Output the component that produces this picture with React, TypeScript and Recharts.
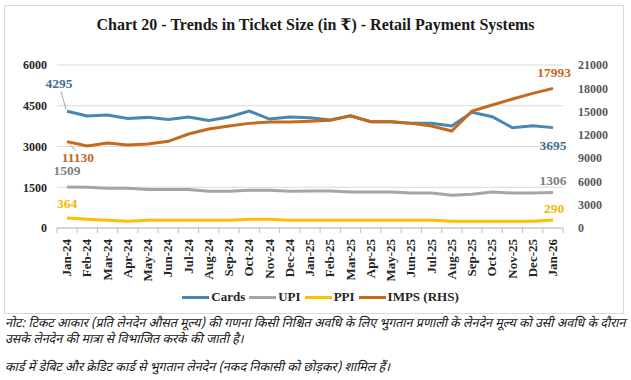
import React from "react"
import {
  CartesianGrid,
  Line,
  LineChart,
  XAxis,
  YAxis,
} from "recharts"

const months = [
  "Jan-24", "Feb-24", "Mar-24", "Apr-24", "May-24", "Jun-24", "Jul-24",
  "Aug-24", "Sep-24", "Oct-24", "Nov-24", "Dec-24", "Jan-25", "Feb-25",
  "Mar-25", "Apr-25", "May-25", "Jun-25", "Jul-25", "Aug-25", "Sep-25",
  "Oct-25", "Nov-25", "Dec-25", "Jan-26",
]

const cards = [
  4295, 4121, 4158, 4035, 4072, 3998, 4084, 3962, 4084, 4305, 4010, 4084,
  4060, 3974, 4133, 3913, 3913, 3852, 3852, 3754, 4257, 4097, 3692, 3766, 3695,
]

const upi = [
  1509, 1500, 1460, 1460, 1420, 1420, 1420, 1350, 1350, 1390, 1390, 1350,
  1360, 1360, 1325, 1325, 1325, 1288, 1288, 1202, 1239, 1325, 1288, 1288, 1306,
]

const ppi = [
  364, 319, 282, 245, 282, 282, 282, 282, 282, 319, 319, 282, 282, 282, 282,
  282, 282, 282, 282, 245, 245, 245, 245, 245, 290,
]

const imps = [
  11130, 10562, 10948, 10690, 10819, 11163, 12107, 12751, 13137, 13480, 13652,
  13652, 13738, 13867, 14468, 13695, 13695, 13480, 13137, 12494, 15070, 15842,
  16615, 17345, 17993,
]

const leftTicks = [0, 1500, 3000, 4500, 6000]
const rightTicks = [0, 3000, 6000, 9000, 12000, 15000, 18000, 21000]

const data = months.map((month, i) => ({
  month,
  cards: cards[i],
  upi: upi[i],
  ppi: ppi[i],
  imps: imps[i],
}))

const SERIF = "'Liberation Serif', 'DejaVu Serif', serif"

// end labels: dx/dy from the point to the label baseline centre
const series = [
  {
    key: "cards", name: "Cards", color: "#4a86b0", text: "#3f6f94", axis: "left",
    first: { dx: -8, dy: -23, leader: true }, last: { dx: 0, dy: 22 },
  },
  {
    key: "upi", name: "UPI", color: "#a5a5a5", text: "#808080", axis: "left",
    first: { dx: 0, dy: -12 }, last: { dx: 0, dy: -8 },
  },
  {
    key: "ppi", name: "PPI", color: "#ffc000", text: "#f5b800", axis: "left",
    first: { dx: 0, dy: -10 }, last: { dx: 1, dy: -7 },
  },
  {
    key: "imps", name: "IMPS (RHS)", color: "#c5691c", text: "#c5691c", axis: "right",
    first: { dx: 11, dy: 20, leader: true }, last: { dx: 1, dy: -11 },
  },
]

const PLOT_W = 506
const PAD = 10
const STEP = (PLOT_W - 2 * PAD) / (months.length - 1)

function MonthTick(props: any) {
  const { x, y, payload, index } = props
  return (
    <g>
      <line x1={x - STEP / 2} y1={y} x2={x - STEP / 2} y2={y + 5} stroke="#bfbfbf" />
      {index === months.length - 1 && (
        <line x1={x + STEP / 2} y1={y} x2={x + STEP / 2} y2={y + 5} stroke="#bfbfbf" />
      )}
      <text
        x={x}
        y={y + 7}
        transform={`rotate(-90 ${x + 4} ${y + 7})`}
        textAnchor="end"
        fontFamily={SERIF}
        fontWeight="bold"
        fontSize={13}
        fill="#262626"
      >
        {payload.value}
      </text>
    </g>
  )
}

function endLabel(s: any) {
  return (p: any) => {
    const { x, y, index, value } = p
    const cfg = index === 0 ? s.first : index === months.length - 1 ? s.last : null
    if (!cfg) return <g key={index} />
    const tx = x + cfg.dx
    const ty = y + cfg.dy
    return (
      <g key={index}>
        {cfg.leader && (
          cfg.dy < 0 ? (
            <line x1={tx + 2} y1={ty + 3} x2={x - 1} y2={y - 2} stroke="#a6a6a6" />
          ) : (
            <line x1={x + 1} y1={y + 1} x2={tx - 2} y2={ty - 11} stroke="#a6a6a6" />
          )
        )}
        <text
          x={tx}
          y={ty}
          textAnchor="middle"
          fontFamily={SERIF}
          fontWeight="bold"
          fontSize={13.5}
          fill={s.text}
        >
          {value}
        </text>
      </g>
    )
  }
}

export default function App() {
  return (
    <div
      style={{
        position: "absolute",
        left: 0,
        top: 0,
        width: 631,
        height: 380,
        background: "#fff",
        overflow: "hidden",
      }}
    >
      <div
        style={{
          position: "absolute",
          left: 4,
          top: 5,
          width: 618,
          height: 307,
          border: "1px solid #d9d9d9",
        }}
      />
      <div
        style={{
          position: "absolute",
          left: 0,
          top: 15,
          width: 631,
          textAlign: "center",
          fontFamily: SERIF,
          fontWeight: "bold",
          fontSize: 16,
          color: "#1a1a1a",
        }}
      >
        Chart 20 - Trends in Ticket Size (in ₹) - Retail Payment Systems
      </div>

      <div style={{ position: "absolute", left: 0, top: 0 }}>
        <LineChart
          width={631}
          height={290}
          data={data}
          margin={{ top: 65, right: 13, bottom: 2, left: 7 }}
        >
          <CartesianGrid
            yAxisId="left"
            vertical={false}
            stroke="#d9d9d9"
          />
          <XAxis
            dataKey="month"
            interval={0}
            height={60}
            padding={{ left: PAD, right: PAD }}
            tickSize={0}
            tickMargin={0}
            tickLine={false}
            axisLine={{ stroke: "#bfbfbf" }}
            tick={<MonthTick />}
          />
          <YAxis
            yAxisId="left"
            width={50}
            domain={[0, 6000]}
            ticks={leftTicks}
            axisLine={false}
            tickLine={false}
            tickSize={0}
            tickMargin={10}
            tick={{
              fontFamily: SERIF,
              fontWeight: "bold",
              fontSize: 12,
              fill: "#262626",
            }}
          />
          <YAxis
            yAxisId="right"
            orientation="right"
            width={55}
            domain={[0, 21000]}
            ticks={rightTicks}
            axisLine={false}
            tickLine={false}
            tickSize={0}
            tickMargin={15}
            tick={{
              fontFamily: SERIF,
              fontWeight: "bold",
              fontSize: 12,
              fill: "#595959",
            }}
          />
          {series.map((s) => (
            <Line
              key={s.key}
              yAxisId={s.axis}
              dataKey={s.key}
              name={s.name}
              stroke={s.color}
              strokeWidth={3}
              dot={false}
              activeDot={false}
              isAnimationActive={false}
              label={endLabel(s)}
            />
          ))}
        </LineChart>
      </div>

      <div
        style={{
          position: "absolute",
          left: 5,
          top: 289,
          width: 631,
          display: "flex",
          justifyContent: "center",
          gap: 4,
          fontFamily: SERIF,
          fontWeight: "bold",
          fontSize: 13,
          color: "#262626",
        }}
      >
        {series.map((s) => (
          <div key={s.key} style={{ display: "flex", alignItems: "center" }}>
            <span
              style={{
                display: "inline-block",
                width: 27,
                height: 3,
                background: s.color,
                marginRight: 2,
              }}
            />
            <span>{s.name}</span>
          </div>
        ))}
      </div>

      <div
        style={{
          position: "absolute",
          left: 5,
          top: 316,
          width: 624,
          fontFamily: "'Noto Sans Devanagari', 'Noto Sans', sans-serif",
          fontStyle: "italic",
          fontSize: 12.5,
          lineHeight: "16px",
          color: "#111",
        }}
      >
        <div>
          नोट: टिकट आकार (प्रति लेनदेन औसत मूल्य) की गणना किसी निश्चित अवधि के लिए भुगतान प्रणाली के लेनदेन मूल्य को उसी अवधि के दौरान उसके लेनदेन की मात्रा से विभाजित करके की जाती है।
        </div>
        <div style={{ marginTop: 12 }}>
          कार्ड में डेबिट और क्रेडिट कार्ड से भुगतान लेनदेन (नकद निकासी को छोड़कर) शामिल हैं।
        </div>
      </div>
    </div>
  )
}
